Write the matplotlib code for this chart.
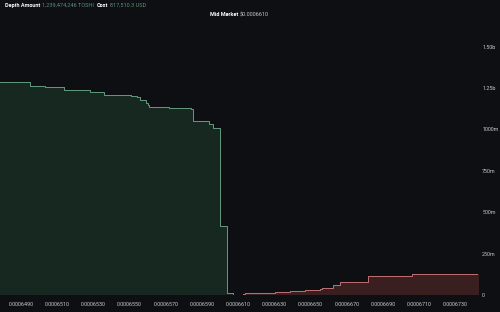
import matplotlib.pyplot as plt
import numpy as np

plt.rcParams['font.family'] = ['Roboto', 'DejaVu Sans']

# bids (cumulative amount, counted from the mid market outwards)
bid_price = [0.0006470, 0.0006495, 0.0006503, 0.0006514, 0.0006528, 0.0006536,
             0.0006551, 0.0006554, 0.0006556, 0.0006559, 0.0006560, 0.0006561,
             0.0006572, 0.0006584, 0.0006585, 0.0006594, 0.00065960, 0.0006600,
             0.0006604, 0.0006607]
bid_amount = [1287e6, 1263e6, 1253e6, 1237e6, 1227e6, 1209e6,
              1200e6, 1193e6, 1179e6, 1161e6, 1145e6, 1133e6,
              1128e6, 1123e6, 1048e6, 1030e6, 1010e6, 417e6,
              12e6, 0]

# asks
ask_price = [0.00066125, 0.00066138, 0.0006622, 0.00066303, 0.00066386, 0.00066469,
             0.00066552, 0.00066561, 0.00066624, 0.00066662, 0.00066817, 0.00067059,
             0.00067215, 0.00067500]
ask_amount = [6e6, 10e6, 15e6, 21e6, 27e6, 30e6,
              36e6, 44e6, 58e6, 78e6, 113e6, 125e6,
              127e6, 128e6]

x_ticks = [0.0006490, 0.0006510, 0.0006530, 0.0006550, 0.0006570, 0.0006590,
           0.0006610, 0.0006630, 0.0006650, 0.0006670, 0.0006690, 0.0006710, 0.0006730]
x_labels = ['0.0006490', '0.0006510', '0.0006530', '0.0006550', '0.0006570', '0.0006590',
            '0.0006610', '0.0006630', '0.0006650', '0.0006670', '0.0006690', '0.0006710', '0.0006730']
y_ticks = [0, 250e6, 500e6, 750e6, 1000e6, 1250e6, 1500e6]
y_labels = ['0', '250m', '500m', '750m', '1000m', '1.25b', '1.50b']

bg = '#0e0f12'
fig = plt.figure(figsize=(5, 3.12), dpi=100, facecolor=bg)
ax = fig.add_axes([0, 17 / 312, 478 / 500, 265 / 312])
ax.set_facecolor(bg)

ax.fill_between(bid_price, bid_amount, step='post', color='#172820', lw=0)
ax.plot(bid_price, bid_amount, drawstyle='steps-post', color='#639a7c', lw=0.7)
ax.fill_between(ask_price, ask_amount, step='post', color='#3a1f20', lw=0)
ax.plot(ask_price, ask_amount, drawstyle='steps-post', color='#c07072', lw=0.7)

ax.set_xlim(0.00064784, 0.00067425)
ax.set_ylim(0, 1.6e9)
ax.set_xticks(x_ticks)
ax.set_xticklabels(x_labels)
ax.set_yticks(y_ticks)
ax.set_yticklabels(y_labels)
ax.yaxis.tick_right()
ax.tick_params(axis='both', length=0, labelsize=3.9, colors='#c8c8c8')
ax.tick_params(axis='x', pad=5)
ax.tick_params(axis='y', pad=3)
for s in ax.spines.values():
    s.set_visible(False)

fig.text(5 / 500, 1 - 5.5 / 312, 'Depth Amount', color='white', fontsize=4, weight='bold', va='center')
fig.text(42 / 500, 1 - 5.5 / 312, '1,239,474,246 TOSHI', color='#5c8f72', fontsize=4, va='center')
fig.text(97 / 500, 1 - 5.5 / 312, 'Cost', color='white', fontsize=4, weight='bold', va='center')
fig.text(110 / 500, 1 - 5.5 / 312, '817,510.3 USD', color='#5c8f72', fontsize=4, va='center')
fig.text(210 / 500, 1 - 15 / 312, 'Mid Market', color='white', fontsize=4, weight='bold', va='center')
fig.text(240 / 500, 1 - 15 / 312, '$0.0006610', color='#c8c8c8', fontsize=4, va='center')

fig.savefig('out.png', dpi=100, facecolor=bg)
